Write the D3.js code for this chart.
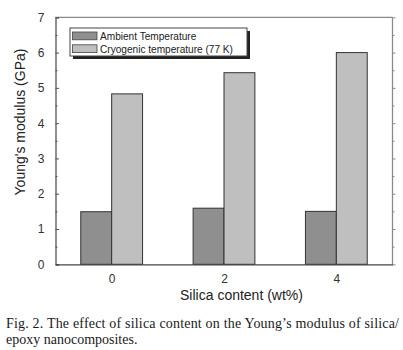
<!DOCTYPE html>
<html>
<head>
<meta charset="utf-8">
<script src="https://cdn.jsdelivr.net/npm/d3@7"></script>
<style>
body{margin:0;background:#fff;}
svg{display:block;}
</style>
</head>
<body>
<script>
var silica=[0,2,4];
var ambient=[1.49,1.59,1.5];
var cryogenic=[4.83,5.43,6.0];
var seriesNames=["Ambient Temperature","Cryogenic temperature (77 K)"];
var seriesColors=["#8f8f8f","#bfbfbf"];
var yTicks=[0,1,2,3,4,5,6,7];
var yMinor=[0.5,1.5,2.5,3.5,4.5,5.5,6.5];

var width=403, height=350;
var plot={left:55.5, right:392.5, top:17.3, bottom:264.3};

var x=d3.scaleLinear().domain([-1,5]).range([plot.left,plot.right]);
var y=d3.scaleLinear().domain([0,7]).range([plot.bottom,plot.top]);
var barW=x(0.55)-x(0);

var svg=d3.select("body").append("svg").attr("width",width).attr("height",height);
svg.append("rect").attr("width",width).attr("height",height).attr("fill","#fff");

// bars, ambient to the left of the category, cryogenic to the right
var bars=svg.append("g").attr("stroke","#333").attr("stroke-width",1);
bars.selectAll(".amb").data(ambient).enter().append("rect")
    .attr("x",function(d,i){return x(silica[i])-barW;})
    .attr("y",function(d){return y(d);})
    .attr("width",barW)
    .attr("height",function(d){return y(0)-y(d);})
    .attr("fill",seriesColors[0]);
bars.selectAll(".cryo").data(cryogenic).enter().append("rect")
    .attr("x",function(d,i){return x(silica[i]);})
    .attr("y",function(d){return y(d);})
    .attr("width",barW)
    .attr("height",function(d){return y(0)-y(d);})
    .attr("fill",seriesColors[1]);

// frame
svg.append("line").attr("x1",plot.left).attr("x2",plot.right).attr("y1",plot.top).attr("y2",plot.top).attr("stroke","#8a8a8a").attr("stroke-width",1.3);
svg.append("line").attr("x1",plot.right).attr("x2",plot.right).attr("y1",plot.top).attr("y2",plot.bottom).attr("stroke","#8a8a8a").attr("stroke-width",1.3);

// axes
var yAxis=d3.axisLeft(y).tickValues(yTicks).tickSize(-3.5).tickPadding(11).tickFormat(d3.format("d"));
var gy=svg.append("g").attr("transform","translate("+plot.left+",0)").call(yAxis);
gy.select(".domain").attr("stroke","#555").attr("stroke-width",1.3);
gy.selectAll(".tick line").attr("stroke","#555");
gy.selectAll("text").attr("font-family","Liberation Sans, Arial, sans-serif").attr("font-size","12px").attr("fill","#333");
svg.append("g").attr("transform","translate("+plot.left+",0)")
    .call(d3.axisLeft(y).tickValues(yMinor).tickSize(-2).tickFormat(""))
    .call(function(g){g.select(".domain").remove(); g.selectAll("line").attr("stroke","#555");});

svg.append("g").attr("transform","translate("+plot.right+",0)")
    .call(d3.axisRight(y).tickValues(yTicks).tickSize(3).tickFormat(""))
    .call(function(g){g.select(".domain").remove(); g.selectAll("line").attr("stroke","#8a8a8a");});
svg.append("g").attr("transform","translate("+plot.right+",0)")
    .call(d3.axisRight(y).tickValues(yMinor).tickSize(2).tickFormat(""))
    .call(function(g){g.select(".domain").remove(); g.selectAll("line").attr("stroke","#8a8a8a");});

var xAxis=d3.axisBottom(x).tickValues(silica).tickSize(0).tickPadding(10).tickFormat(d3.format("d"));
var gx=svg.append("g").attr("transform","translate(0,"+plot.bottom+")").call(xAxis);
gx.select(".domain").attr("stroke","#444").attr("stroke-width",1.3);
gx.selectAll("text").attr("font-family","Liberation Sans, Arial, sans-serif").attr("font-size","12px").attr("fill","#333");

// axis titles
svg.append("text")
    .attr("transform","translate(25,122) rotate(-90)")
    .attr("text-anchor","middle")
    .attr("font-family","Liberation Sans, Arial, sans-serif")
    .attr("font-size","14px")
    .attr("fill","#222")
    .text("Young's modulus (GPa)");
svg.append("text")
    .attr("x",241.5).attr("y",300)
    .attr("text-anchor","middle")
    .attr("font-family","Liberation Sans, Arial, sans-serif")
    .attr("font-size","14px")
    .attr("fill","#222")
    .text("Silica content (wt%)");

// legend with drop shadow
var leg=svg.append("g");
leg.append("rect").attr("x",73).attr("y",31).attr("width",177).attr("height",28).attr("fill","#222");
leg.append("rect").attr("x",70).attr("y",28).attr("width",177).attr("height",28).attr("fill","#fff").attr("stroke","#444").attr("stroke-width",1);
seriesNames.forEach(function(name,i){
  leg.append("rect").attr("x",72.5).attr("y",32+i*12.8).attr("width",24.5).attr("height",7.8)
    .attr("fill",seriesColors[i]).attr("stroke","#444").attr("stroke-width",0.8);
  leg.append("text").attr("x",100).attr("y",39.8+i*12.8)
    .attr("font-family","Liberation Sans, Arial, sans-serif")
    .attr("font-size","10.1px").attr("fill","#222")
    .text(name);
});

// caption
svg.append("text").attr("x",6).attr("y",328)
    .attr("font-family","Liberation Serif, Times New Roman, serif")
    .attr("font-size","14px").attr("fill","#1a1a1a")
    .attr("textLength",393).attr("lengthAdjust","spacing")
    .text("Fig. 2. The effect of silica content on the Young\u2019s modulus of silica/");
svg.append("text").attr("x",6).attr("y",344)
    .attr("font-family","Liberation Serif, Times New Roman, serif")
    .attr("font-size","14px").attr("fill","#1a1a1a")
    .text("epoxy nanocomposites.");
</script>
</body>
</html>
